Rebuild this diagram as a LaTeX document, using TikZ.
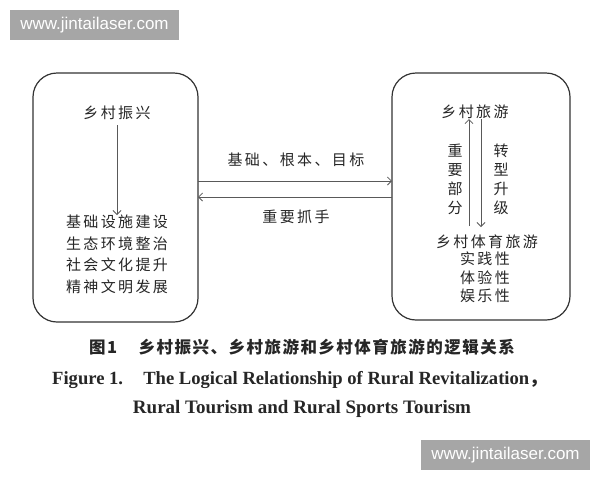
\documentclass[tikz,border=0pt]{standalone}
\usepackage{fontspec}
\setmainfont{Liberation Serif}
\newfontfamily\cjk[LetterSpace=16]{Noto Sans CJK SC}
\newfontfamily\cjkcap[LetterSpace=9]{Noto Sans CJK SC}
\newfontfamily\cjkplain{Noto Sans CJK SC}
\newfontfamily\wmfont{Liberation Sans}
\usetikzlibrary{arrows.meta}
\begin{document}
\begin{tikzpicture}[x=1pt,y=-1pt,
  box/.style={draw=black!80,line width=1.2pt,rounded corners=24pt},
  ctext/.style={font=\cjk\fontsize{15}{21.5}\selectfont,text=black!85,align=center,inner sep=0pt},
  rtext/.style={font=\cjk\fontsize{15}{18.5}\selectfont,text=black!85,align=center,inner sep=0pt},
  vtext/.style={font=\cjkplain\fontsize{15}{19}\selectfont,text=black!85,align=center,inner sep=0pt},
  arr/.style={draw=black!65,line width=0.8pt,-{Straight Barb[length=4pt,width=8pt]}},
  wmbox/.style={fill=black!35,text=white,font=\wmfont\fontsize{17}{19}\selectfont,minimum width=169pt,minimum height=30pt,inner sep=0pt},
  captext/.style={font=\bfseries\fontsize{19}{22}\selectfont,text=black!85,inner sep=0pt}
]
\useasboundingbox (0,0) rectangle (600,480);
\fill[white] (0,0) rectangle (600,480);
% watermarks
\node[wmbox] (wm1) at (94.5,25) {www.jintailaser.com};
\node[wmbox] (wm2) at (505.5,455) {www.jintailaser.com};
% boxes
\draw[box] (33,73) rectangle (198,322);
\draw[box] (392,73) rectangle (570,320);
\coordinate (Le) at (198,180);
\coordinate (Rw) at (392,180);
% left content
\node[ctext] (lt) at (117,113) {乡村振兴};
\node[ctext,anchor=north] (ll) at (117,215) {基础设施建设\\生态环境整治\\社会文化提升\\精神文明发展};
\draw[arr] (117,125) -- (ll.north);
% middle
\node[ctext] (m1) at (296,160) {基础、根本、目标};
\node[ctext] (m2) at (296,217) {重要抓手};
\draw[arr] (Le |- 0,181) -- (Rw |- 0,181);
\draw[arr] (Rw |- 0,197) -- (Le |- 0,197);
% right content
\node[ctext] (rt) at (475,112) {乡村旅游};
\node[ctext] (rb) at (487,242) {乡村体育旅游};
\node[rtext,anchor=north] (rl) at (485,252) {实践性\\体验性\\娱乐性};
\node[vtext] (vl) at (455,179) {重\\要\\部\\分};
\node[vtext] (vr) at (501,179) {转\\型\\升\\级};
\draw[arr] (469,226) -- (469,0 |- rt.south);
\draw[arr] (481,0 |- rt.south) -- (481,227);
% caption
\node[font=\cjkcap\bfseries\fontsize{16.5}{19}\selectfont,text=black!85,inner sep=0pt] (c1) at (302,347) {图1\hspace{1.3em}乡村振兴、乡村旅游和乡村体育旅游的逻辑关系};
\node[captext,font=\bfseries\fontsize{18.6}{22}\selectfont,anchor=base west] (c2) at (52,384) {Figure 1.\hspace{0.75em} The Logical Relationship of Rural Revitalization{\cjkplain ，}};
\node[captext] (c3) at (302,409) {Rural Tourism and Rural Sports Tourism};
\end{tikzpicture}
\end{document}
